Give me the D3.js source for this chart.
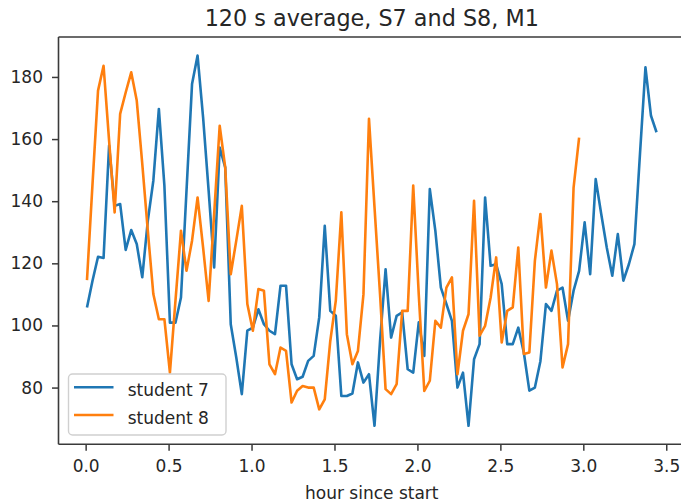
<!DOCTYPE html>
<html>
<head>
<meta charset="utf-8">
<script src="https://cdn.jsdelivr.net/npm/d3@7"></script>
<style>
  html, body { margin: 0; padding: 0; background: #fff; }
  svg { display: block; font-family: "DejaVu Sans", sans-serif; }
</style>
</head>
<body>
<svg id="chart" width="681" height="504"></svg>
<script>
// Heart-rate style readings, one value per 120 s window.
const SAMPLE_SECONDS = 120;
const START_HOUR = 0.008;

const student7 = [
  105.8, 114.4, 122.1, 121.7, 157.9, 138.5, 139.1, 124.3, 130.7, 126.2,
  115.5, 133.7, 146.6, 169.7, 145.0, 100.9, 100.9, 109.0, 143.4, 177.7,
  186.9, 167.0, 143.4, 118.7, 157.3, 150.9, 100.4, 89.7, 77.9, 98.3,
  99.3, 105.2, 100.4, 98.3, 97.2, 112.8, 112.8, 87.5, 82.7, 83.5,
  88.6, 90.2, 102.6, 132.1, 104.7, 103.1, 77.3, 77.3, 78.1, 88.1,
  81.6, 84.3, 67.7, 95.0, 118.1, 96.1, 103.1, 104.2, 85.9, 84.8,
  101.0, 90.2, 143.9, 130.5, 112.2, 106.9, 101.5, 80.0, 84.8, 67.7,
  89.1, 94.0, 141.2, 119.2, 119.7, 113.3, 94.0, 94.0, 99.3, 91.3,
  79.0, 80.0, 88.5, 106.9, 104.7, 111.2, 112.2, 101.5, 111.2, 117.6,
  133.2, 116.5, 147.1, 135.9, 125.1, 116.0, 129.4, 114.4, 119.7, 126.2,
  155.0, 183.1, 167.5, 162.2
];

const student8 = [
  114.6, 145.5, 175.6, 183.6, 159.5, 136.4, 168.1, 175.0, 181.5, 172.4,
  152.0, 130.5, 110.1, 102.0, 102.0, 84.8, 107.9, 130.5, 117.6, 127.3,
  141.2, 125.1, 107.9, 135.9, 164.3, 150.9, 116.5, 127.3, 138.5, 106.9,
  98.3, 111.7, 111.2, 87.5, 84.3, 92.9, 91.8, 75.2, 79.0, 80.5,
  80.0, 80.0, 73.0, 76.2, 95.0, 108.0, 136.4, 97.2, 87.5, 91.8,
  110.0, 166.5, 138.0, 110.0, 79.5, 77.9, 81.1, 104.7, 104.7, 145.0,
  110.0, 78.9, 82.2, 101.5, 99.3, 112.2, 115.5, 84.3, 98.3, 103.6,
  140.1, 96.7, 99.9, 109.0, 121.9, 94.5, 104.7, 105.8, 125.1, 90.8,
  91.3, 120.8, 135.9, 112.2, 124.1, 113.3, 86.5, 94.0, 144.4, 160.5
];

const seriesNames = ["student 7", "student 8"];
const seriesColors = ["#1f77b4", "#ff7f0e"];
const xTicks = [0.0, 0.5, 1.0, 1.5, 2.0, 2.5, 3.0, 3.5];
const yTicks = [80, 100, 120, 140, 160, 180];
const titleText = "120 s average, S7 and S8, M1";
const xLabelText = "hour since start";

const toPoints = vals => vals.map((v, i) => ({
  hour: START_HOUR + i * SAMPLE_SECONDS / 3600,
  value: v
}));
const series = [student7, student8].map(toPoints);

// Plot area (its right edge runs past the visible canvas)
const plot = { left: 58.5, right: 685, top: 37, bottom: 444.3 };

// Autoscale with 5% padding on each side
const allPts = series.flat();
const xExt = d3.extent(allPts, d => d.hour);
const yExt = d3.extent(allPts, d => d.value);
const xPad = (xExt[1] - xExt[0]) * 0.05;
const yPad = (yExt[1] - yExt[0]) * 0.05;

const x = d3.scaleLinear()
  .domain([xExt[0] - xPad, xExt[1] + xPad])
  .range([plot.left, plot.right]);
const y = d3.scaleLinear()
  .domain([yExt[0] - yPad, yExt[1] + yPad])
  .range([plot.bottom, plot.top]);

const svg = d3.select("#chart");
const textColor = "#262626";
const spineColor = "#3a3a3a";

// Data lines (clipped to plot area)
svg.append("clipPath").attr("id", "plotClip")
  .append("rect")
  .attr("x", plot.left).attr("y", plot.top)
  .attr("width", plot.right - plot.left).attr("height", plot.bottom - plot.top);

const line = d3.line().x(d => x(d.hour)).y(d => y(d.value));
svg.append("g").attr("clip-path", "url(#plotClip)")
  .selectAll("path")
  .data(series)
  .join("path")
  .attr("d", line)
  .attr("fill", "none")
  .attr("stroke", (d, i) => seriesColors[i])
  .attr("stroke-width", 2.6)
  .attr("stroke-linejoin", "round")
  .attr("stroke-linecap", "butt");

// Spines
const spines = svg.append("g")
  .attr("stroke", spineColor).attr("stroke-width", 1.6).attr("fill", "none");
spines.append("line").attr("x1", plot.left).attr("x2", plot.left)
  .attr("y1", plot.top).attr("y2", plot.bottom);
spines.append("line").attr("x1", plot.left).attr("x2", plot.right)
  .attr("y1", plot.top).attr("y2", plot.top);
spines.append("line").attr("x1", plot.left).attr("x2", plot.right)
  .attr("y1", plot.bottom).attr("y2", plot.bottom);

// X axis
const xAxis = svg.append("g")
  .attr("transform", `translate(0,${plot.bottom})`)
  .call(d3.axisBottom(x).tickValues(xTicks).tickFormat(d3.format(".1f"))
    .tickSize(6.5).tickSizeOuter(0).tickPadding(9.5));
xAxis.select(".domain").remove();
xAxis.selectAll(".tick line").attr("stroke", spineColor).attr("stroke-width", 1.5);
xAxis.selectAll(".tick text")
  .attr("fill", textColor).attr("font-size", 17)
  .attr("font-family", "DejaVu Sans, sans-serif");

// Y axis
const yAxis = svg.append("g")
  .attr("transform", `translate(${plot.left},0)`)
  .call(d3.axisLeft(y).tickValues(yTicks).tickFormat(d3.format("d"))
    .tickSize(6.5).tickSizeOuter(0).tickPadding(9));
yAxis.select(".domain").remove();
yAxis.selectAll(".tick line").attr("stroke", spineColor).attr("stroke-width", 1.5);
yAxis.selectAll(".tick text")
  .attr("fill", textColor).attr("font-size", 17)
  .attr("font-family", "DejaVu Sans, sans-serif");

// Title and axis label
svg.append("text")
  .attr("x", (plot.left + plot.right) / 2).attr("y", 26)
  .attr("text-anchor", "middle").attr("font-size", 22.3).attr("fill", textColor)
  .text(titleText);
svg.append("text")
  .attr("x", (plot.left + plot.right) / 2).attr("y", 498.5)
  .attr("text-anchor", "middle").attr("font-size", 17).attr("fill", textColor)
  .text(xLabelText);

// Legend
const legend = svg.append("g").attr("transform", "translate(68.5,374)");
legend.append("rect")
  .attr("width", 157.5).attr("height", 61).attr("rx", 4)
  .attr("fill", "#fff").attr("fill-opacity", 0.8)
  .attr("stroke", "#d0d0d0").attr("stroke-width", 1.4);
const items = legend.selectAll("g.item")
  .data(seriesNames)
  .join("g").attr("class", "item")
  .attr("transform", (d, i) => `translate(0,${13.3 + i * 27.7})`);
items.append("line")
  .attr("x1", 5.5).attr("x2", 45)
  .attr("stroke", (d, i) => seriesColors[i]).attr("stroke-width", 2.6);
items.append("text")
  .attr("x", 59.2).attr("y", 8.7)
  .attr("font-size", 17).attr("fill", textColor)
  .text(d => d);
</script>
</body>
</html>
